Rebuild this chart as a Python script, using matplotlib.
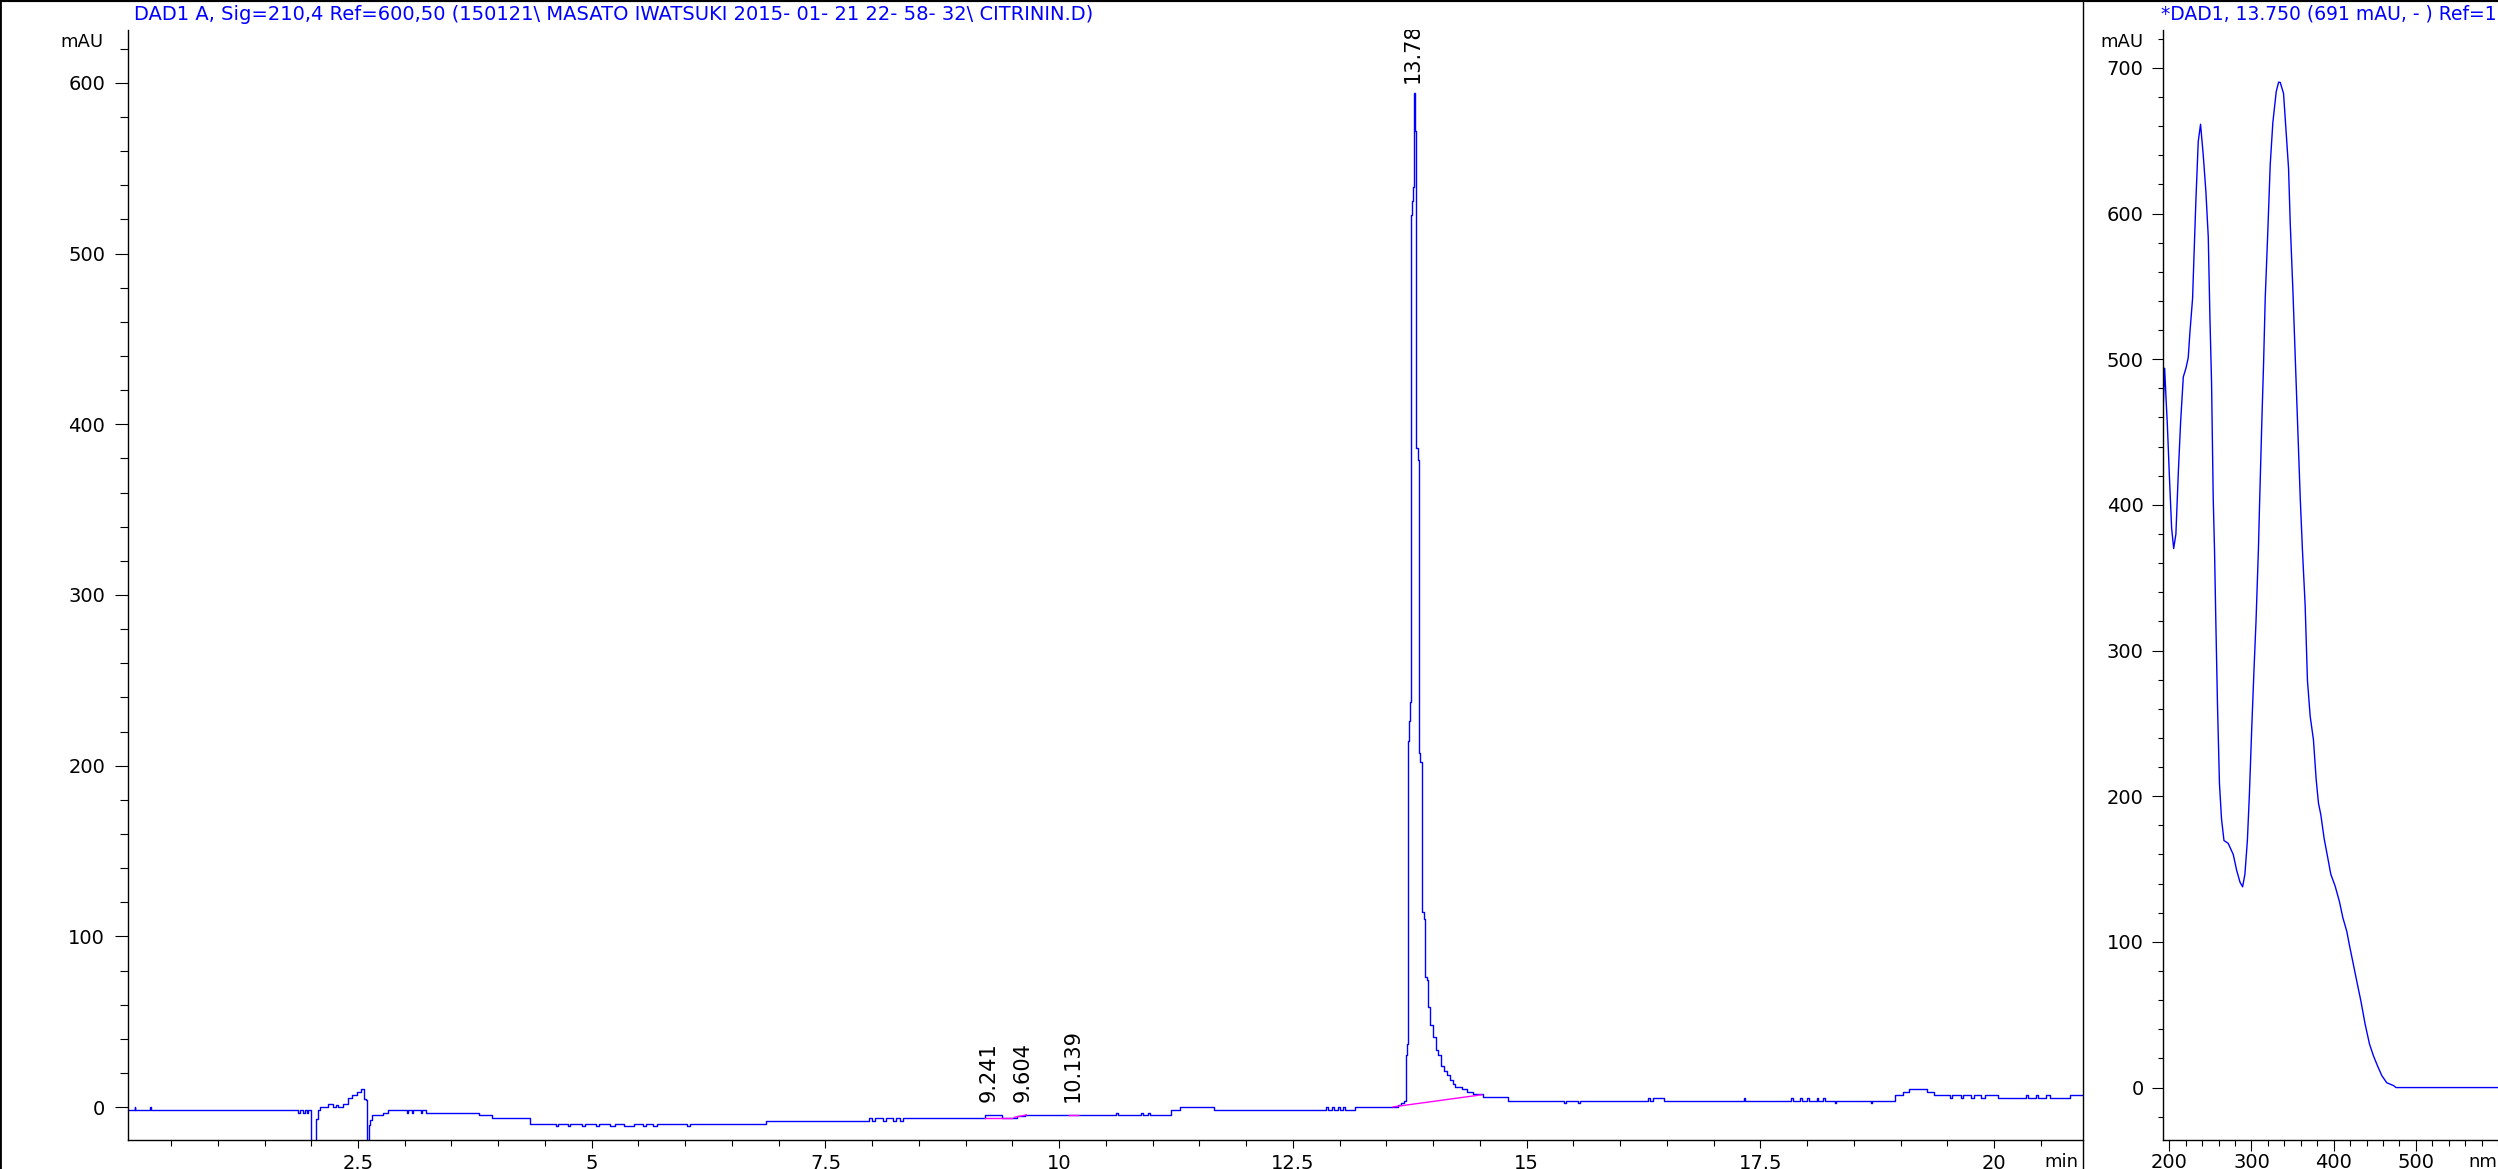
import matplotlib.pyplot as plt
from matplotlib.ticker import MultipleLocator
from matplotlib.lines import Line2D

W, H = 2498, 1169

# chromatogram, DAD1 A 210 nm (step trace: value holds until next time)
rt_min = [0.04, 0.11, 0.12, 0.28, 0.29, 1.86, 1.88, 1.91, 1.93, 1.95, 1.97,
          2.00, 2.05, 2.075, 2.09, 2.18, 2.235, 2.27, 2.29, 2.34, 2.39, 2.44,
          2.485, 2.53, 2.567, 2.59, 2.60, 2.617, 2.63, 2.65, 2.77, 2.82,
          3.02, 3.03, 3.08, 3.09, 3.17, 3.18, 3.23, 3.79, 3.93, 4.34,
          4.62, 4.64, 4.75, 4.77, 4.90, 4.93, 5.05, 5.08, 5.20, 5.25, 5.35,
          5.45, 5.55, 5.58, 5.66, 5.70, 6.02, 6.05, 6.86, 7.97, 8.00, 8.03,
          8.12, 8.15, 8.22, 8.25, 8.30, 8.33, 9.21, 9.39, 9.55, 9.63,
          10.61, 10.63, 10.88, 10.90, 10.95, 10.97, 11.20, 11.29, 11.66,
          12.85, 12.87, 12.92, 12.94, 12.98, 13.00, 13.04, 13.06, 13.16,
          13.626, 13.651, 13.687, 13.705, 13.716, 13.733, 13.744, 13.754,
          13.765, 13.772, 13.786, 13.797, 13.805, 13.812, 13.819, 13.833,
          13.847, 13.861, 13.879, 13.897, 13.911, 13.929, 13.947, 13.965,
          14.000, 14.029, 14.054, 14.079, 14.115, 14.143, 14.179, 14.207,
          14.232, 14.303, 14.357, 14.428, 14.535, 14.802,
          15.40, 15.42, 15.55, 15.57, 16.30, 16.32, 16.35, 16.47, 17.32, 17.33,
          17.83, 17.85, 17.92, 17.94, 18.00, 18.02, 18.10, 18.12, 18.17, 18.19,
          18.30, 18.31, 18.68, 18.69, 18.94, 19.02, 19.09, 19.28, 19.36,
          19.53, 19.55, 19.65, 19.67, 19.75, 19.78, 19.86, 19.90, 20.04,
          20.34, 20.36, 20.45, 20.47, 20.55, 20.60, 20.81, 20.95]
signal_mau = [-1.6, 0.0, -1.6, 0.0, -1.6, -3.5, -1.6, -3.5, -1.6, -3.5, -1.6,
              -30.0, -6.9, -1.6, 0.0, 1.7, 0.0, 1.2, 0.0, 1.7, 5.3, 6.8,
              8.8, 10.7, 4.9, 3.9, -30.0, -10.8, -7.8, -4.5, -3.5, -1.6,
              -3.5, -1.6, -3.5, -1.6, -3.5, -1.6, -3.5, -4.5, -6.5, -10.0,
              -11.3, -10.0, -11.3, -10.0, -11.3, -10.0, -11.3, -10.0, -11.3, -10.0, -11.3,
              -10.0, -11.3, -10.0, -11.3, -10.0, -11.3, -10.0, -8.0, -6.5, -8.0, -6.5,
              -8.0, -6.5, -8.0, -6.5, -8.0, -6.5, -4.5, -6.5, -5.5, -4.5,
              -3.3, -4.5, -3.3, -4.5, -3.3, -4.5, -1.6, 0.0, -2.0,
              0.0, -2.0, 0.0, -2.0, 0.0, -2.0, 0.0, -2.0, 0.0,
              1.1, 2.2, 3.6, 30.4, 36.7, 214.5, 226.0, 237.5,
              522.7, 531.1, 538.9, 594.2, 571.9, 565.2, 386.4, 378.8,
              207.2, 202.0, 114.0, 110.0, 76.4, 74.3, 58.6, 48.2,
              40.8, 33.6, 30.4, 24.1, 21.0, 18.9, 15.8, 13.7,
              12.0, 10.5, 9.0, 7.4, 5.7, 3.8,
              2.3, 3.8, 2.3, 3.8, 5.4, 3.8, 5.4, 3.8, 5.4, 3.8,
              5.4, 3.8, 5.4, 3.8, 5.4, 3.8, 5.4, 3.8, 5.4, 3.8,
              2.3, 3.8, 2.3, 3.8, 6.8, 8.8, 10.7, 8.8, 7.2,
              5.3, 7.2, 5.3, 7.2, 5.3, 7.2, 5.3, 7.2, 5.3,
              7.2, 5.3, 7.2, 5.3, 7.2, 5.3, 7.2, 7.2]

# integration baselines (start/end of each peak)
base_t = [[9.21, 9.49], [9.52, 9.65], [10.10, 10.20], [13.57, 14.52]]
base_v = [[-6.3, -6.3], [-6.0, -4.6], [-4.6, -4.6], [0.1, 7.2]]

peak_labels = ["9.241", "9.604", "10.139", "13.78"]
peak_rt = [9.241, 9.604, 10.139, 13.78]
label_y = [3.1, 3.1, 3.1, 600.0]

main_xticks = [2.5, 5, 7.5, 10, 12.5, 15, 17.5, 20]
main_xlabels = ["2.5", "5", "7.5", "10", "12.5", "15", "17.5", "20"]
main_yticks = [0, 100, 200, 300, 400, 500, 600]

# UV spectrum at 13.750 min
wl_nm = [192.3, 194.3, 196.0, 197.6, 200.0, 202.8, 205.3, 208.0, 211.0, 213.8,
         217.0, 220.3, 223.0, 225.0, 228.3, 230.0, 232.4, 235.2, 238.0, 241.3,
         244.5, 247.4, 249.4, 251.4, 253.4, 255.0, 256.6, 258.6, 261.0, 263.5,
         266.5, 271.7, 277.8, 281.9, 286.0, 289.2, 292.0, 295.0, 297.4, 300.3,
         303.1, 305.5, 308.4, 309.8, 312.6, 314.7, 316.7, 319.6, 322.8, 326.0,
         330.1, 333.0, 335.0, 339.0, 342.3, 345.1, 347.1, 350.4, 353.2, 356.0,
         359.3, 362.0, 365.3, 368.1, 371.4, 375.4, 378.7, 381.5, 384.4, 388.4,
         392.5, 396.5, 401.8, 407.1, 411.1, 416.0, 419.2, 424.1, 429.0, 433.0,
         438.3, 443.6, 448.4, 453.3, 458.6, 464.6, 472.7, 476.0, 600.0]
absorb_mau = [462.8, 493.8, 473.0, 455.0, 420.8, 384.0, 370.0, 380.0, 423.0, 457.5,
              487.8, 494.0, 501.0, 518.0, 541.7, 570.6, 610.0, 649.5, 661.3, 640.0,
              615.0, 583.8, 528.6, 483.9, 405.0, 369.0, 320.0, 263.0, 208.8, 184.5,
              169.6, 167.6, 160.0, 149.2, 141.0, 137.8, 146.5, 169.7, 200.7, 246.8,
              287.6, 320.0, 369.0, 399.8, 457.5, 497.0, 541.7, 583.8, 633.7, 662.6,
              683.7, 690.2, 690.0, 682.4, 654.7, 631.0, 594.0, 547.0, 502.0, 457.5,
              405.0, 369.0, 331.0, 279.4, 255.0, 238.7, 211.6, 195.3, 187.2, 171.0,
              158.7, 146.5, 138.3, 127.5, 116.8, 107.2, 97.7, 84.2, 70.6, 59.8,
              43.5, 29.9, 21.8, 15.0, 8.2, 3.3, 1.4, 0.0, 0.0]

spec_xticks = [200, 300, 400, 500]
spec_yticks = [0, 100, 200, 300, 400, 500, 600, 700]

title_main = "DAD1 A, Sig=210,4 Ref=600,50 (150121\\ MASATO IWATSUKI 2015- 01- 21 22- 58- 32\\ CITRININ.D)"
title_spec = "*DAD1, 13.750 (691 mAU, - ) Ref=1"

blue = "#0000ff"
pink = "#ff00ff"

fig = plt.figure(figsize=(W / 100, H / 100), dpi=100)
ax = fig.add_axes([128 / W, 29 / H, (2083 - 128) / W, 1110 / H])
ax2 = fig.add_axes([2163 / W, 29 / H, (2498 - 2163) / W, 1110 / H])

ax.step(rt_min, signal_mau, where="post", color=blue, lw=1.0)
for bt, bv in zip(base_t, base_v):
    ax.plot(bt, bv, color=pink, lw=1.0, zorder=3)
for rt, lab, yv in zip(peak_rt, peak_labels, label_y):
    ax.text(rt, yv, lab, rotation=90, ha="center", va="bottom", fontsize=15,
            color="black", clip_on=True)

ax.set_xlim(0.04, 20.95)
ax.set_ylim(-19.3, 631)
ax.set_xticks(main_xticks)
ax.set_xticklabels(main_xlabels)
ax.set_yticks(main_yticks)
ax.xaxis.set_minor_locator(MultipleLocator(0.5))
ax.yaxis.set_minor_locator(MultipleLocator(20))
ax.tick_params(axis="x", which="major", length=5.8, width=0.8, pad=4, labelsize=14)
ax.tick_params(axis="x", which="minor", length=4.3, width=0.8)
ax.tick_params(axis="y", which="major", length=9.4, width=0.8, pad=7, labelsize=14)
ax.tick_params(axis="y", which="minor", length=5.8, width=0.8)

ax2.plot(wl_nm, absorb_mau, color=blue, lw=1.0)
ax2.set_xlim(192.3, 600)
ax2.set_ylim(-36, 726)
ax2.set_xticks(spec_xticks)
ax2.set_yticks(spec_yticks)
ax2.xaxis.set_minor_locator(MultipleLocator(20))
ax2.yaxis.set_minor_locator(MultipleLocator(20))
ax2.tick_params(axis="x", which="major", length=8, width=0.8, pad=1.5, labelsize=14)
ax2.tick_params(axis="x", which="minor", length=4.3, width=0.8)
ax2.tick_params(axis="y", which="major", length=8, width=0.8, pad=6, labelsize=14)
ax2.tick_params(axis="y", which="minor", length=3.6, width=0.8)

for a in (ax, ax2):
    a.spines["top"].set_visible(False)
    a.spines["right"].set_visible(False)
    a.spines["left"].set_linewidth(1.0)
    a.spines["bottom"].set_linewidth(1.0)
    a.patch.set_alpha(0)

# frame lines of the report page
fig.add_artist(Line2D([0, 1], [1, 1], transform=fig.transFigure, color="black", lw=3))
fig.add_artist(Line2D([0, 0], [0, 1], transform=fig.transFigure, color="black", lw=2))
fig.add_artist(Line2D([2083 / W, 2083 / W], [0, 1], transform=fig.transFigure,
                      color="black", lw=1.0))

fig.text(134 / W, 1 - 14 / H, title_main, color=blue, fontsize=14, ha="left", va="center")
fig.text(2161 / W, 1 - 14 / H, title_spec, color=blue, fontsize=13.5, ha="left", va="center")
fig.text(104 / W, 1 - 42 / H, "mAU", fontsize=13, ha="right", va="center")
fig.text(2143 / W, 1 - 42 / H, "mAU", fontsize=13, ha="right", va="center")
fig.text(2078 / W, 1 - 1162 / H, "min", fontsize=13, ha="right", va="center")
fig.text(2468 / W, 1 - 1162 / H, "nm", fontsize=13, ha="left", va="center")

fig.savefig("out.png", dpi=100)
